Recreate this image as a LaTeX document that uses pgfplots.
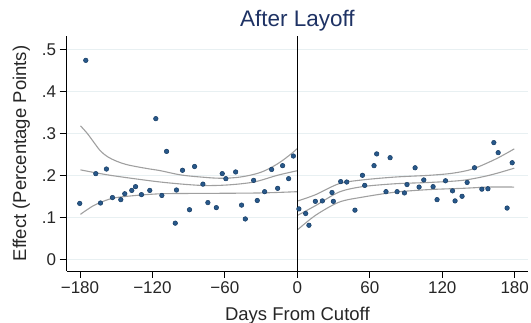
\documentclass[border=0pt]{standalone}
\usepackage{fontspec}
\setmainfont{Liberation Sans}
\usepackage{pgfplots}
\pgfplotsset{compat=1.18}
\usepackage{pgfplotstable}
\definecolor{titleblue}{RGB}{30,50,100}
\definecolor{mkfill}{RGB}{40,88,138}
\definecolor{mkdraw}{RGB}{22,60,100}
\definecolor{gridc}{RGB}{232,240,242}
\definecolor{fitgray}{RGB}{160,160,160}

\pgfplotstableread{
x y
-180.2 0.133
-175.2 0.474
-166.9 0.204
-163.0 0.134
-158.1 0.215
-153.1 0.147
-146.2 0.142
-142.9 0.156
-137.1 0.164
-134.0 0.173
-129.1 0.154
-122.2 0.164
-117.2 0.335
-112.2 0.152
-108.3 0.257
-101.1 0.086
-100.1 0.165
-95.1 0.212
-89.3 0.118
-85.1 0.221
-78.2 0.179
-74.1 0.135
-67.1 0.123
-62.2 0.204
-59.2 0.192
-51.1 0.208
-46.2 0.129
-43.1 0.096
-36.2 0.188
-33.2 0.140
-27.1 0.161
-21.3 0.214
-16.3 0.169
-12.2 0.223
-7.2 0.192
-3.3 0.246
}\leftpts

\pgfplotstableread{
x y
1.3 0.120
6.9 0.109
9.6 0.081
14.9 0.138
20.7 0.139
28.7 0.159
29.8 0.138
35.9 0.185
40.9 0.184
47.7 0.117
53.9 0.200
55.8 0.176
63.5 0.223
65.7 0.251
73.4 0.161
76.8 0.242
82.6 0.161
88.7 0.158
90.8 0.178
97.5 0.218
100.8 0.172
104.7 0.189
112.4 0.173
115.7 0.142
122.7 0.187
128.5 0.163
130.6 0.139
136.4 0.150
140.6 0.183
146.7 0.218
152.8 0.167
157.8 0.168
162.7 0.278
166.3 0.254
173.7 0.122
177.9 0.230
}\rightpts

\begin{document}
\begin{tikzpicture}
\begin{axis}[
  scale only axis,
  width=461.3pt, height=235pt,
  xmin=-191, xmax=191,
  ymin=-0.028, ymax=0.532,
  axis x line*=bottom, axis y line*=left,
  axis line style={black, line width=0.9pt},
  xtick={-180,-120,-60,0,60,120,180},
  xticklabels={−180,−120,−60,0,60,120,180},
  ytick={0,0.1,0.2,0.3,0.4,0.5},
  yticklabels={0,.1,.2,.3,.4,.5},
  tick align=outside,
  major tick length=7pt,
  tick style={black, line width=0.8pt},
  ticklabel style={font=\fontsize{17}{17}\selectfont, text=black!85},
  ymajorgrids,
  grid style={gridc, line width=0.9pt},
  clip=false,
]
% confidence bands and fit, left
\addplot[fitgray, line width=1.1pt, smooth, tension=0.55] coordinates {
(-179.6,0.318) (-174,0.300) (-168.6,0.279) (-163,0.258) (-157,0.244) (-150,0.234) (-142,0.226) (-132,0.220) (-122,0.215) (-113.3,0.211) (-96.7,0.201) (-80.2,0.196) (-63.6,0.193) (-47,0.196) (-30.4,0.207) (-16.6,0.227) (-5.6,0.250) (0,0.264)};
\addplot[fitgray, line width=1.1pt, smooth, tension=0.5] coordinates {
(-179.6,0.213) (-154.8,0.200) (-113.3,0.184) (-80.2,0.176) (-58,0.177) (-36,0.184) (-16.6,0.200) (0,0.211)};
\addplot[fitgray, line width=1.1pt, smooth, tension=0.5] coordinates {
(-179.6,0.107) (-168.6,0.128) (-154.8,0.144) (-141,0.150) (-113.3,0.156) (-71.8,0.157) (-30.4,0.158) (0,0.161)};
% right
\addplot[fitgray, line width=1.1pt, smooth, tension=0.5] coordinates {
(0.5,0.139) (15.2,0.154) (34.5,0.180) (53.9,0.189) (81.5,0.196) (109.1,0.200) (128.5,0.205) (145.1,0.215) (164.4,0.239) (179.6,0.263)};
\addplot[fitgray, line width=1.1pt, smooth, tension=0.5] coordinates {
(0.5,0.105) (15.2,0.128) (34.5,0.160) (53.9,0.173) (81.5,0.180) (109.1,0.183) (136.8,0.188) (158.9,0.200) (179.6,0.217)};
\addplot[fitgray, line width=1.1pt, smooth, tension=0.5] coordinates {
(0.5,0.071) (15.2,0.105) (34.5,0.136) (53.9,0.148) (81.5,0.160) (109.1,0.166) (136.8,0.169) (158.9,0.172) (179.6,0.172)};
% cutoff line
\addplot[black, line width=1.1pt] coordinates {(0,-0.028) (0,0.532)};
% points
\addplot[only marks, mark=*, mark size=2.3pt, mark options={fill=mkfill, draw=mkdraw, line width=0.5pt}] table[x=x,y=y] {\leftpts};
\addplot[only marks, mark=*, mark size=2.3pt, mark options={fill=mkfill, draw=mkdraw, line width=0.5pt}] table[x=x,y=y] {\rightpts};
% title and axis labels
\node[anchor=base, font=\fontsize{22.5}{22.5}\selectfont, text=titleblue] at (axis description cs:0.5,1.041) {After Layoff};
\node[anchor=base, font=\fontsize{18.5}{18.5}\selectfont, text=black!85] at (axis description cs:0.5,-0.2106) {Days From Cutoff};
\node[anchor=base, rotate=90, font=\fontsize{18.5}{18.5}\selectfont, text=black!85] at (axis description cs:-0.0882,0.5) {Effect (Percentage Points)};
\end{axis}
\pgfresetboundingbox
\path (current axis.south west) ++(-66.7pt,-52pt) rectangle ++(531pt,323pt);
\end{tikzpicture}
\end{document}
